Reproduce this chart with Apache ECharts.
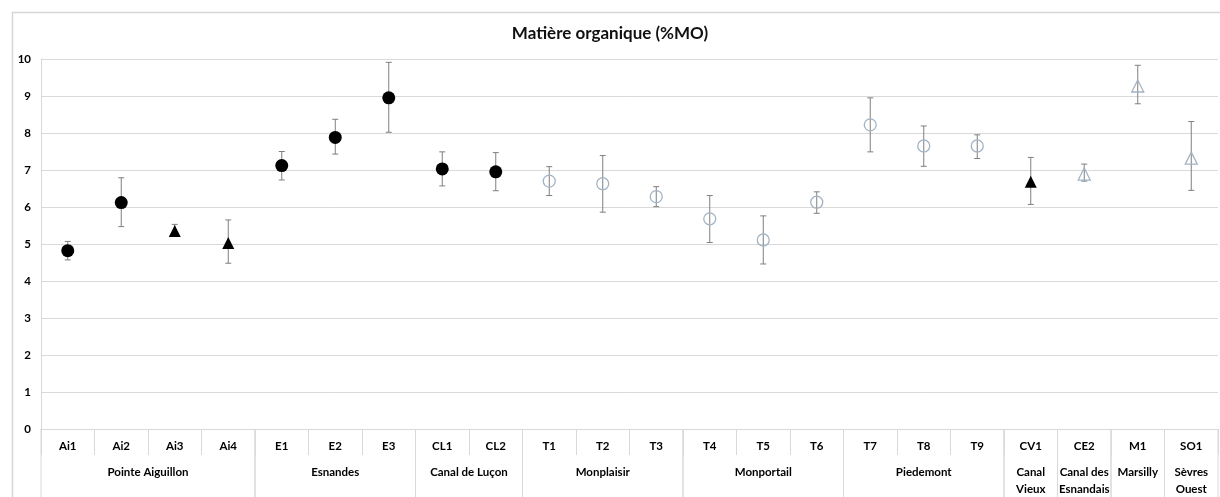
<!DOCTYPE html>
<html>
<head>
<meta charset="utf-8">
<script src="https://cdn.jsdelivr.net/npm/echarts@6/dist/echarts.min.js"></script>
<style>html,body{margin:0;padding:0;background:#fff;}#chart{width:1220px;height:497px;}</style>
</head>
<body>
<div id="chart"></div>
<script>
const sites = ["Ai1","Ai2","Ai3","Ai4","E1","E2","E3","CL1","CL2","T1","T2","T3","T4","T5","T6","T7","T8","T9","CV1","CE2","M1","SO1"];
const means = [4.82,6.12,5.35,5.03,7.12,7.88,8.95,7.03,6.95,6.70,6.63,6.28,5.68,5.11,6.13,8.22,7.65,7.65,6.68,6.89,9.27,7.32];
const upper = [5.07,6.79,5.53,5.65,7.50,8.37,9.91,7.49,7.47,7.09,7.39,6.55,6.31,5.76,6.41,8.95,8.19,7.95,7.34,7.16,9.83,8.31];
const lower = [4.57,5.47,5.25,4.48,6.73,7.43,8.02,6.57,6.44,6.31,5.86,6.01,5.04,4.46,5.83,7.49,7.10,7.31,6.07,6.70,8.79,6.45];
const markerKind = ["fc","fc","ft","ft","fc","fc","fc","fc","fc","hc","hc","hc","hc","hc","hc","hc","hc","hc","ft","ht","ht","ht"];
const groupNames = ["Pointe Aiguillon","Esnandes","Canal de Luçon","Monplaisir","Monportail","Piedemont","Canal\nVieux","Canal des\nEsnandais","Marsilly","Sèvres\nOuest"];
const groupSizes = [4,3,2,3,3,3,1,1,1,1];
const yTicks = [0,1,2,3,4,5,6,7,8,9,10];

const FONT = 'Lato, "Open Sans", sans-serif';
const GRID_COLOR = '#d9d9d9';
const HOLLOW = '#a3b3c4';

function kindData(k){ return means.map((v,i)=> markerKind[i]===k ? [i,v] : [i,null]); }

const groupData = [];
let s = 0;
groupSizes.forEach((n,gi)=>{ groupData.push([s, s+n-1, gi]); s += n; });

const chart = echarts.init(document.getElementById('chart'));
chart.setOption({
  animation:false,
  backgroundColor:'#fff',
  title:{text:'Matière organique (%MO)', left:'center', top:20,
    textStyle:{fontFamily:FONT, fontWeight:'bold', fontSize:17, color:'#111'}},
  graphic:[{type:'rect', left:10, top:10, shape:{width:1240, height:520},
    style:{fill:'none', stroke:'#d6d6d6', lineWidth:1.5}, silent:true, z:-10}],
  grid:{left:41, right:2, top:59, bottom:68},
  xAxis:{type:'category', data:sites, boundaryGap:true,
    axisLine:{show:true, lineStyle:{color:GRID_COLOR}},
    axisTick:{show:true, interval:0, length:26, lineStyle:{color:GRID_COLOR}},
    axisLabel:{interval:0, margin:11, fontFamily:FONT, fontWeight:'bold', fontSize:11.5, color:'#000'},
    splitLine:{show:false}},
  yAxis:{type:'value', min:yTicks[0], max:yTicks[yTicks.length-1], interval:1,
    axisLine:{show:true, lineStyle:{color:GRID_COLOR}},
    axisTick:{show:false},
    axisLabel:{margin:10, fontFamily:FONT, fontWeight:'bold', fontSize:11.5, color:'#000'},
    splitLine:{show:true, lineStyle:{color:GRID_COLOR, width:1}}},
  series:[
    {type:'custom', name:'err', z:1,
      data: sites.map((_,i)=>[i, lower[i], upper[i]]),
      encode:{x:0, y:[1,2]},
      renderItem:function(params, api){
        const i = api.value(0);
        const lo = api.coord([i, api.value(1)]);
        const hi = api.coord([i, api.value(2)]);
        const c = 3;
        const st = {stroke:'#7f7f7f', lineWidth:1};
        return {type:'group', children:[
          {type:'line', shape:{x1:lo[0], y1:lo[1], x2:hi[0], y2:hi[1]}, style:st},
          {type:'line', shape:{x1:hi[0]-c, y1:hi[1], x2:hi[0]+c, y2:hi[1]}, style:st},
          {type:'line', shape:{x1:lo[0]-c, y1:lo[1], x2:lo[0]+c, y2:lo[1]}, style:st}
        ]};
      }},
    {type:'scatter', name:'fc', z:3, data:kindData('fc'), symbol:'circle', symbolSize:13,
      itemStyle:{color:'#000', opacity:1}},
    {type:'scatter', name:'ft', z:3, data:kindData('ft'), symbol:'triangle', symbolSize:12,
      itemStyle:{color:'#000', opacity:1}},
    {type:'scatter', name:'hc', z:3, data:kindData('hc'), symbol:'circle', symbolSize:12,
      itemStyle:{color:'rgba(255,255,255,0)', borderColor:HOLLOW, borderWidth:1.3, opacity:1}},
    {type:'scatter', name:'ht', z:3, data:kindData('ht'), symbol:'triangle', symbolSize:12,
      itemStyle:{color:'rgba(255,255,255,0)', borderColor:HOLLOW, borderWidth:1.3, opacity:1}},
    {type:'custom', name:'groups', z:2, clip:false, silent:true,
      data: groupData, encode:{x:[0,1]},
      renderItem:function(params, api){
        const a = api.value(0), b = api.value(1), gi = api.value(2);
        const bw = api.size([1,0])[0];
        const pa = api.coord([a, 0]);
        const pb = api.coord([b, 0]);
        const x0 = pa[0] - bw/2, x1 = pb[0] + bw/2, y0 = pa[1];
        const ls = {stroke:GRID_COLOR, lineWidth:1};
        return {type:'group', children:[
          {type:'line', shape:{x1:x0, y1:y0, x2:x0, y2:y0+80}, style:ls},
          {type:'line', shape:{x1:x1, y1:y0, x2:x1, y2:y0+80}, style:ls},
          {type:'text', style:{text:groupNames[gi], x:(x0+x1)/2, y:y0+35, align:'center', verticalAlign:'top',
            fontFamily:FONT, fontWeight:'bold', fontSize:11.5, lineHeight:17, fill:'#000'}}
        ]};
      }}
  ]
});
</script>
</body>
</html>
